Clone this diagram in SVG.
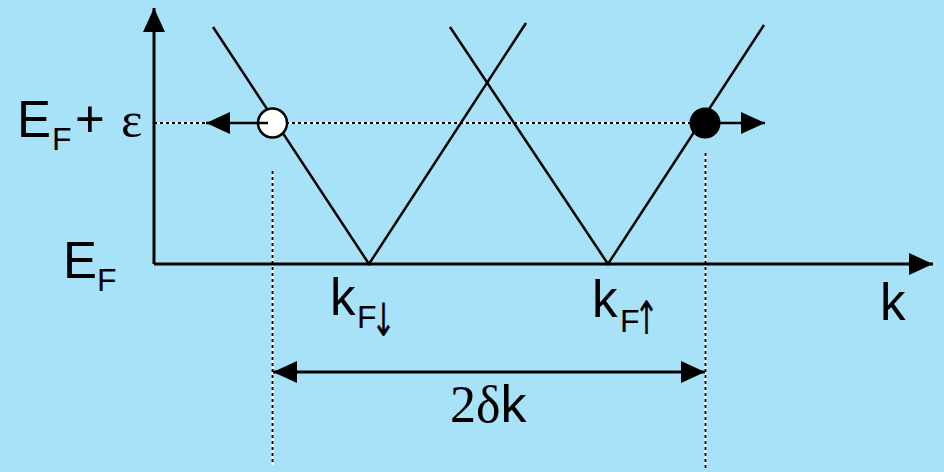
<svg xmlns="http://www.w3.org/2000/svg" width="944" height="472" viewBox="0 0 944 472">
<style>
.sans{font-family:"Liberation Sans",Arial,sans-serif;fill:#000}
.serif{font-family:"Liberation Serif","Times New Roman",serif;fill:#000}
.arr{font-family:"DejaVu Sans",sans-serif;font-size:40px;fill:#000}
.big{font-size:51px}
.sub{font-size:32px}
.band{fill:none;stroke:#000;stroke-width:2.5}
.axis{fill:none;stroke:#000;stroke-width:3}
.dw{fill:none;stroke:#fff;stroke-width:1.8}
.db{fill:none;stroke:#000;stroke-width:1.8;stroke-dasharray:3 3}
</style>
<defs>
<marker id="ah" viewBox="0 0 24 24" refX="24" refY="12" markerWidth="24" markerHeight="24" markerUnits="userSpaceOnUse" orient="auto-start-reverse">
<path d="M0,1 L24,12 L0,23 Z" fill="#000"/>
</marker>
</defs>
<rect x="0" y="0" width="944" height="472" fill="#A8E2F8"/>
<g id="guides">
<path class="dw" d="M154,123 H690 M272.5,171 V465 M705.5,153 V468"/>
<path class="db" d="M154,123 H690 M272.5,171 V465 M705.5,153 V468"/>
</g>
<g id="axes">
<path class="axis" d="M154,264 V8" marker-end="url(#ah)"/>
<path class="axis" d="M154,264 H933" marker-end="url(#ah)"/>
</g>
<g id="bands">
<path class="band" d="M213,27 L369,264 L526,23"/>
<path class="band" d="M450,27 L608,264 L764,25"/>
</g>
<g id="connectors">
<path fill="none" stroke="#000" stroke-width="2.5" d="M270,123 H206" marker-end="url(#ah)"/>
<path fill="none" stroke="#000" stroke-width="2.5" d="M708,123 H765" marker-end="url(#ah)"/>
<path fill="none" stroke="#000" stroke-width="3" d="M273,372 H705" marker-start="url(#ah)" marker-end="url(#ah)"/>
</g>
<g id="hole">
<circle cx="272.5" cy="123" r="14.5" fill="#fff" stroke="#000" stroke-width="2.5"/>
<path d="M259,123 H268" stroke="#000" stroke-width="2.5"/>
</g>
<g id="electron">
<circle cx="705" cy="123" r="15.5" fill="#000"/>
</g>
<g id="labels">
<text class="sans big" x="17" y="137">E</text>
<text class="sans sub" x="52" y="150">F</text>
<text class="sans big" x="75" y="137">+</text>
<text class="serif big" x="121" y="137">ε</text>
<text class="sans big" x="63" y="278">E</text>
<text class="sans sub" x="97" y="291">F</text>
<text class="sans big" x="330" y="315">k</text>
<text class="sans sub" x="357" y="328">F</text>
<text class="arr" transform="translate(371,336) scale(0.75,1.15)">↓</text>
<text class="sans big" x="592" y="317">k</text>
<text class="sans sub" x="620" y="332">F</text>
<text class="arr" transform="translate(634,334) scale(0.75,1.15)">↑</text>
<text class="sans big" x="880" y="320">k</text>
<text class="serif" font-size="52" x="450" y="422">2δ<tspan class="sans">k</tspan></text>
</g>
</svg>
